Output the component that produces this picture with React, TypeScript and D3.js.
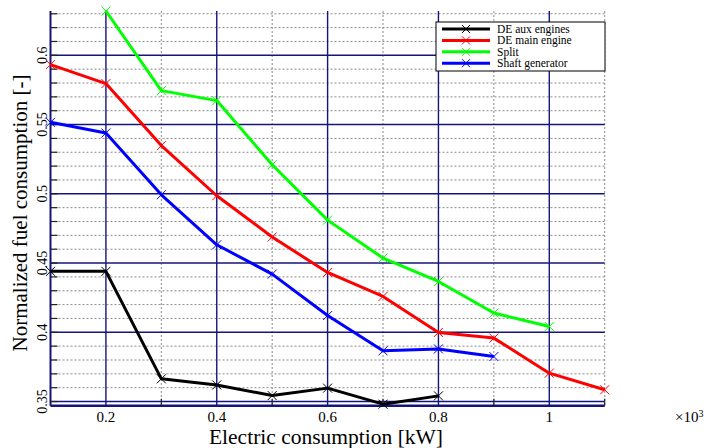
import * as d3 from 'd3';

// x values in units of 10^3 kW
const xValues = [0.1, 0.2, 0.3, 0.4, 0.5, 0.6, 0.7, 0.8, 0.9, 1.0, 1.1];

const deAux = [0.444, 0.444, 0.3664, 0.362, 0.3543, 0.3597, 0.3481, 0.3541];
const deMain = [0.5933, 0.5796, 0.5348, 0.4986, 0.4688, 0.4432, 0.4259, 0.3999, 0.3958, 0.3705, 0.3585];
const split = [null, 0.632, 0.5745, 0.5673, 0.521, 0.481, 0.4536, 0.4367, 0.4139, 0.4042];
const shaft = [0.5516, 0.5439, 0.4993, 0.4632, 0.442, 0.4121, 0.3866, 0.388, 0.3825];

const seriesNames = ['DE aux engines', 'DE main engine', 'Split', 'Shaft generator'];
const seriesColors = ['#000000', '#ff0000', '#00ff00', '#0000ff'];
const seriesValues = [deAux, deMain, split, shaft];

const xTickLabels = [0.2, 0.4, 0.6, 0.8, 1];
const xMinorTicks = [0.3, 0.5, 0.7, 0.9, 1.1];
const yTickLabels = [0.35, 0.4, 0.45, 0.5, 0.55, 0.6];

const FONT = "'Liberation Serif', 'Times New Roman', serif";
const NAVY = '#14147e';

export default function App() {
  const left = 50.5;
  const right = 604.7;
  const bottom = 405.7;
  const top = 11;

  const x = d3.scaleLinear().domain([0.1, 1.1]).range([left, right]);
  const y = d3.scaleLinear().domain([0.347, 0.632]).range([bottom, top]);

  const yAllMinor = d3.range(35, 64).map((v) => v / 100);
  const yMinor = yAllMinor.filter((v) => Math.round(v * 100) % 5 !== 0);

  const line = d3
    .line<[number, number | null]>()
    .defined((d) => d[1] !== null)
    .x((d) => x(d[0]))
    .y((d) => y(d[1] as number));

  const cross = (cx: number, cy: number, color: string, key: string, s = 4.5) => (
    <g key={key} stroke={color} strokeWidth={1}>
      <line x1={cx - s} y1={cy - s} x2={cx + s} y2={cy + s} />
      <line x1={cx - s} y1={cy + s} x2={cx + s} y2={cy - s} />
    </g>
  );

  const legendX = 436;
  const legendY = 22;
  const legendW = 169;
  const legendH = 49;

  return (
    <svg width={715} height={448} style={{ position: 'absolute', left: 0, top: 0, background: '#fff' }}>
      {/* minor grid */}
      <g stroke="#8a8a8a" strokeWidth={1} strokeDasharray="2,2">
        {yMinor.map((v) => (
          <line key={'ym' + v} x1={left} x2={right} y1={y(v)} y2={y(v)} />
        ))}
        {xMinorTicks.map((v) => (
          <line key={'xm' + v} x1={x(v)} x2={x(v)} y1={top} y2={bottom} />
        ))}
      </g>
      {/* major grid */}
      <g stroke={NAVY}>
        {yTickLabels.map((v) => (
          <line key={'yM' + v} x1={left} x2={right} y1={y(v)} y2={y(v)} strokeWidth={1.6} />
        ))}
        {xTickLabels.map((v) => (
          <line key={'xM' + v} x1={x(v)} x2={x(v)} y1={top} y2={bottom} strokeWidth={1.4} />
        ))}
      </g>
      {/* axes */}
      <line x1={left} x2={left} y1={top} y2={bottom} stroke={NAVY} strokeWidth={2} />
      <line x1={left} x2={right} y1={bottom} y2={bottom} stroke={NAVY} strokeWidth={2.4} />
      <g stroke="#222" strokeWidth={1.2}>
        {yAllMinor.map((v) => (
          <line key={'yt' + v} x1={left} x2={left + 7} y1={y(v)} y2={y(v)} />
        ))}
        {xMinorTicks.map((v) => (
          <line key={'xt' + v} x1={x(v)} x2={x(v)} y1={bottom} y2={bottom - 7} />
        ))}
      </g>

      {/* series */}
      {seriesValues.map((vals, i) => {
        const pts: [number, number | null][] = vals.map((v, j) => [xValues[j], v]);
        return (
          <g key={seriesNames[i]}>
            <path d={line(pts) || ''} fill="none" stroke={seriesColors[i]} strokeWidth={3} strokeLinejoin="round" />
            {pts
              .filter((p) => p[1] !== null)
              .map((p, j) => cross(x(p[0]), y(p[1] as number), seriesColors[i], seriesNames[i] + j))}
          </g>
        );
      })}

      {/* y tick labels */}
      {yTickLabels.map((v) => (
        <text
          key={'yl' + v}
          transform={`translate(47,${y(v)}) rotate(-90)`}
          textAnchor="middle"
          fontSize={14}
          fontFamily={FONT}
        >
          {String(v)}
        </text>
      ))}
      {/* x tick labels */}
      {xTickLabels.map((v) => (
        <text key={'xl' + v} x={x(v)} y={422} textAnchor="middle" fontSize={15} fontFamily={FONT}>
          {String(v)}
        </text>
      ))}
      <text x={675} y={422} fontSize={15} fontFamily={FONT}>
        ×10<tspan fontSize={10} dy={-5}>3</tspan>
      </text>

      {/* axis titles */}
      <text x={326} y={444} textAnchor="middle" fontSize={21.5} fontFamily={FONT}>
        Electric consumption [kW]
      </text>
      <text transform="translate(27,213) rotate(-90)" textAnchor="middle" fontSize={21} fontFamily={FONT}>
        Normalized fuel consumption [-]
      </text>

      {/* legend */}
      <rect x={legendX} y={legendY} width={legendW} height={legendH} fill="#fff" stroke="#000" strokeWidth={1} />
      {seriesNames.map((name, i) => {
        const cy = legendY + 7 + i * 11.4;
        return (
          <g key={'lg' + name}>
            <line x1={legendX + 6} x2={legendX + 54} y1={cy} y2={cy} stroke={seriesColors[i]} strokeWidth={3} />
            {cross(legendX + 30, cy, seriesColors[i], 'lgc' + i, 4)}
            <text x={legendX + 61} y={cy + 4} fontSize={11.5} fontFamily={FONT}>
              {name}
            </text>
          </g>
        );
      })}
    </svg>
  );
}
